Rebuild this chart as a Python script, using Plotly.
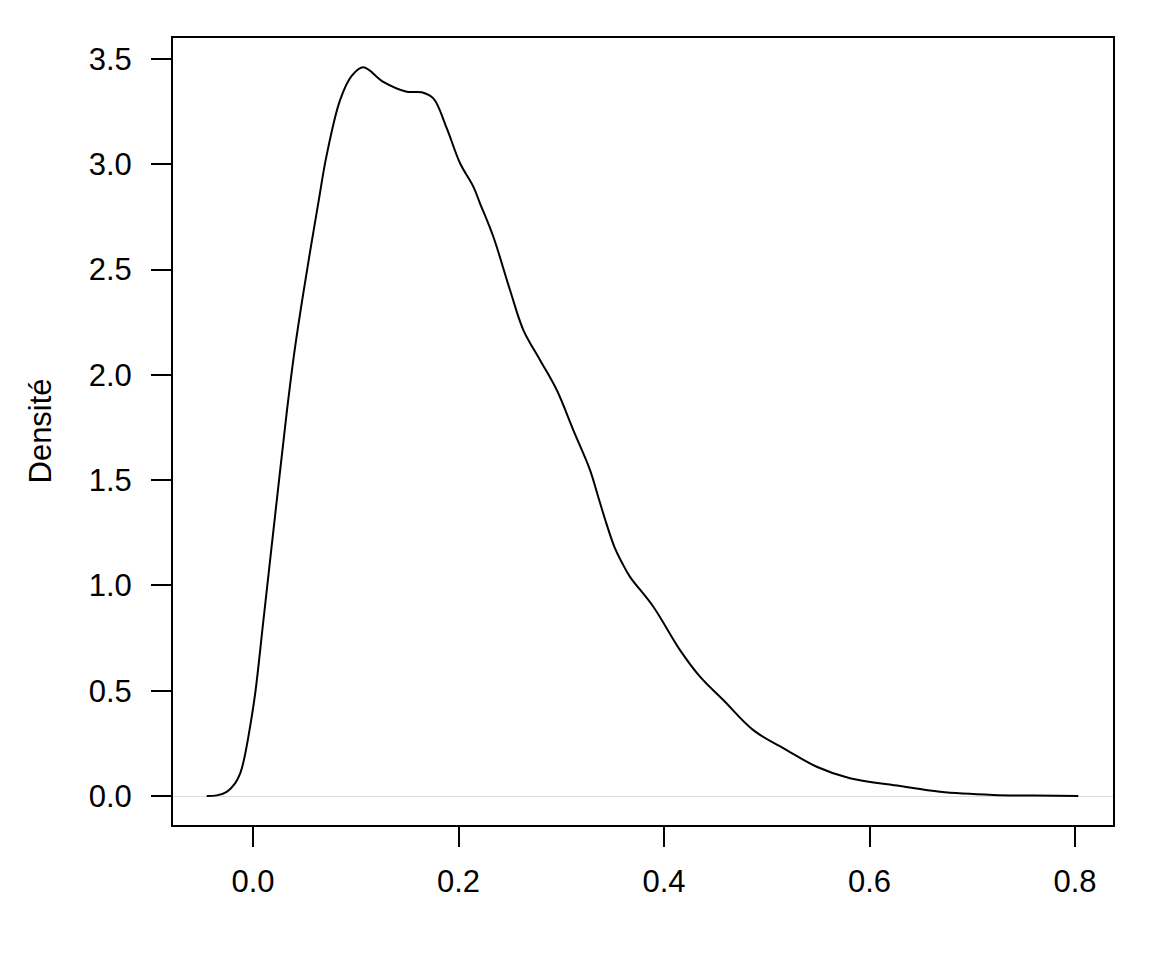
import plotly.graph_objects as go

# Density curve
x_vals = [-0.0451, -0.0353, -0.0256, -0.0175, -0.0127, -0.0094, -0.0046, 0.0019, 0.0100,
          0.0182, 0.0260, 0.0330, 0.0400, 0.0480, 0.0560, 0.0640, 0.0715, 0.0847, 0.0960,
          0.1073, 0.1268, 0.1496, 0.1642, 0.1755, 0.1885, 0.2015, 0.2144, 0.2209, 0.2339,
          0.2501, 0.2631, 0.2793, 0.2956, 0.3117, 0.3280, 0.3360, 0.3442, 0.3520, 0.3600,
          0.3669, 0.3896, 0.4156, 0.4350, 0.4577, 0.4869, 0.5194, 0.5486, 0.5810, 0.6297,
          0.6686, 0.7205, 0.7600, 0.8032]
y_vals = [0.000, 0.003, 0.020, 0.060, 0.105, 0.160, 0.280, 0.480, 0.830,
          1.190, 1.530, 1.830, 2.100, 2.360, 2.600, 2.830, 3.040, 3.305, 3.420,
          3.461, 3.392, 3.345, 3.342, 3.313, 3.172, 3.005, 2.894, 2.815, 2.656,
          2.403, 2.213, 2.071, 1.928, 1.738, 1.548, 1.420, 1.290, 1.180, 1.100,
          1.041, 0.899, 0.693, 0.567, 0.456, 0.313, 0.218, 0.139, 0.084, 0.047,
          0.020, 0.005, 0.002, 0.000]

x_ticks = [0.0, 0.2, 0.4, 0.6, 0.8]
x_tick_labels = ["0.0", "0.2", "0.4", "0.6", "0.8"]
y_ticks = [0.0, 0.5, 1.0, 1.5, 2.0, 2.5, 3.0, 3.5]
y_tick_labels = ["0.0", "0.5", "1.0", "1.5", "2.0", "2.5", "3.0", "3.5"]
y_title = "Densité"

FONT = "Liberation Sans, Arial, Helvetica, sans-serif"
FS = 31

fig = go.Figure()
fig.add_trace(go.Scatter(x=x_vals, y=y_vals, mode="lines",
                         line=dict(color="black", width=2, shape="spline", smoothing=1.0),
                         hoverinfo="skip", showlegend=False))

# page body has an 8px offset; margins compensate so the plot box sits at 173..1113 x 38..825
W, H = 1152, 960
L, T = 173 - 8, 38 - 8
R = (W + 8) - 1113
B = (H + 8) - 825
pw = W - L - R

fig.update_layout(
    width=W, height=H,
    margin=dict(l=L, r=R, t=T, b=B, autoexpand=False),
    paper_bgcolor="white", plot_bgcolor="white",
    font=dict(family=FONT, size=FS, color="black"),
    showlegend=False,
    xaxis=dict(range=[-0.0779, 0.837], tickvals=x_ticks, ticktext=x_tick_labels,
               ticks="outside", ticklen=20, tickwidth=2, tickcolor="black",
               showline=True, linecolor="black", linewidth=2, mirror=True,
               showgrid=False, zeroline=False, ticklabelstandoff=8,
               tickfont=dict(family=FONT, size=FS, color="black")),
    yaxis=dict(range=[-0.1377, 3.600], tickvals=y_ticks, ticktext=y_tick_labels,
               ticks="outside", ticklen=20, tickwidth=2, tickcolor="black",
               showline=True, linecolor="black", linewidth=2, mirror=True,
               showgrid=False, zeroline=True, zerolinecolor="#dcdcdc", zerolinewidth=1,
               ticklabelstandoff=13,
               tickfont=dict(family=FONT, size=FS, color="black")),
    annotations=[dict(text=y_title, textangle=-90, xref="paper", yref="paper",
                      x=(40 - 173) / pw, y=0.5, xanchor="center", yanchor="middle",
                      showarrow=False, font=dict(family=FONT, size=FS, color="black"))],
)

fig.write_html("out.html")
